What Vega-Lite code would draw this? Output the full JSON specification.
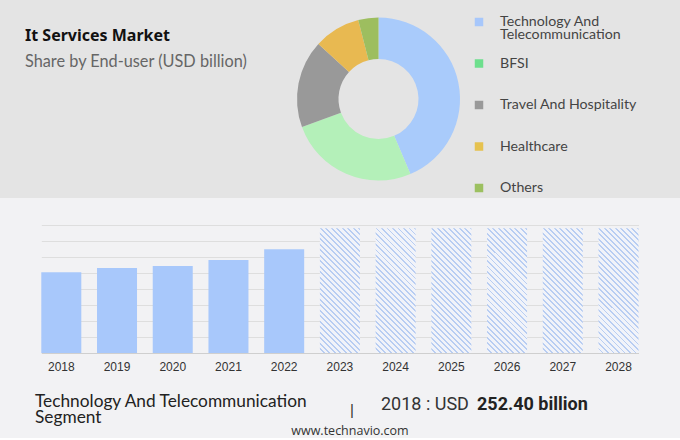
{
  "$schema": "https://vega.github.io/schema/vega-lite/v6.json",
  "padding": 0,
  "background": "#f2f2f4",
  "config": {"view": {"stroke": null}},
  "spacing": 27,
  "vconcat": [
    {
      "spacing": 0,
      "resolve": {"scale": {"color": "independent", "y": "independent"}},
      "hconcat": [
        {
          "width": 297,
          "height": 198,
          "view": {"fill": "#e4e4e4"},
          "layer": [
            {
              "data": {"values": [{"t": "It Services Market"}]},
              "mark": {"type": "text", "font": "Noto Sans", "fontWeight": "bold", "fontSize": 16, "color": "#111111", "align": "left", "baseline": "alphabetic"},
              "encoding": {"text": {"field": "t"}, "x": {"value": 25}, "y": {"value": 41}}
            },
            {
              "data": {"values": [{"t": "Share by End-user (USD billion)"}]},
              "mark": {"type": "text", "font": "Lato", "fontSize": 16.3, "color": "#666666", "align": "left", "baseline": "alphabetic"},
              "encoding": {"text": {"field": "t"}, "x": {"value": 25}, "y": {"value": 67}}
            }
          ]
        },
        {
          "width": 163,
          "height": 198,
          "view": {"fill": "#e4e4e4"},
          "data": {"values": [
            {"segment": "Technology And Telecommunication", "share": 43.6, "order": 1},
            {"segment": "BFSI", "share": 25.8, "order": 2},
            {"segment": "Travel And Hospitality", "share": 17.4, "order": 3},
            {"segment": "Healthcare", "share": 9.2, "order": 4},
            {"segment": "Others", "share": 4.0, "order": 5}
          ]},
          "mark": {"type": "arc", "innerRadius": 40, "outerRadius": 81.5},
          "encoding": {
            "theta": {"field": "share", "type": "quantitative", "stack": true},
            "order": {"field": "order", "type": "quantitative"},
            "color": {
              "field": "segment", "type": "nominal", "legend": null,
              "scale": {
                "domain": ["Technology And Telecommunication", "BFSI", "Travel And Hospitality", "Healthcare", "Others"],
                "range": ["#a9cbfb", "#b4f0b9", "#999999", "#e8b951", "#9dbe5f"]
              }
            }
          }
        },
        {
          "width": 220,
          "height": 198,
          "view": {"fill": "#e4e4e4"},
          "data": {"values": [
            {"segment": "Technology And\nTelecommunication"},
            {"segment": "BFSI"},
            {"segment": "Travel And Hospitality"},
            {"segment": "Healthcare"},
            {"segment": "Others"}
          ]},
          "encoding": {
            "y": {"field": "segment", "type": "nominal", "sort": null, "axis": null, "scale": {"type": "point", "range": [22, 188], "padding": 0}}
          },
          "layer": [
            {
              "mark": {"type": "point", "shape": "square", "filled": true, "size": 72, "opacity": 1},
              "encoding": {
                "x": {"value": 19},
                "color": {
                  "field": "segment", "type": "nominal", "legend": null,
                  "scale": {
                    "domain": ["Technology And\nTelecommunication", "BFSI", "Travel And Hospitality", "Healthcare", "Others"],
                    "range": ["#a7c7fb", "#6ddf8d", "#999999", "#e6c24f", "#9cc060"]
                  }
                }
              }
            },
            {
              "mark": {"type": "text", "font": "Lato", "fontSize": 14.2, "color": "#444444", "align": "left", "baseline": "alphabetic", "dy": 4, "lineBreak": "\n", "lineHeight": 12.5},
              "encoding": {"x": {"value": 40}, "text": {"field": "segment"}}
            }
          ]
        }
      ]
    },
    {
      "spacing": 0,
      "hconcat": [
        {
          "width": 25,
          "height": 128,
          "data": {"values": []},
          "mark": {"type": "point", "opacity": 0}
        },
        {
          "width": 620,
          "height": 128,
          "data": {"values": [
            {"year": "2018", "value": 252.4, "kind": "actual"},
            {"year": "2019", "value": 266, "kind": "actual"},
            {"year": "2020", "value": 272, "kind": "actual"},
            {"year": "2021", "value": 291, "kind": "actual"},
            {"year": "2022", "value": 324, "kind": "actual"},
            {"year": "2023", "value": 390, "kind": "forecast"},
            {"year": "2024", "value": 390, "kind": "forecast"},
            {"year": "2025", "value": 390, "kind": "forecast"},
            {"year": "2026", "value": 390, "kind": "forecast"},
            {"year": "2027", "value": 390, "kind": "forecast"},
            {"year": "2028", "value": 390, "kind": "forecast"}
          ]},
          "encoding": {
            "x": {
              "field": "year", "type": "nominal", "sort": null,
              "scale": {"range": [16.3, 613.5], "paddingInner": 0.282, "paddingOuter": 0},
              "axis": {"title": null, "ticks": false, "labelPadding": 8, "labelFont": "Liberation Sans", "labelFontSize": 12, "labelColor": "#333333", "domainColor": "#cfcfcf", "labelAngle": 0, "grid": false}
            },
            "y": {
              "field": "value", "type": "quantitative",
              "scale": {"domain": [0, 400]},
              "axis": {"title": null, "labels": false, "ticks": false, "domain": false, "grid": true, "gridColor": "#dedede", "values": [50, 100, 150, 200, 250, 300, 350, 400], "minExtent": 0, "maxExtent": 0}
            }
          },
          "layer": [
            {
              "transform": [{"filter": "datum.kind == 'actual'"}],
              "mark": {"type": "bar", "color": "#a8c8fb"}
            },
            {
              "transform": [{"filter": "datum.kind == 'forecast'"}],
              "mark": {
                "type": "bar",
                "color": {
                  "gradient": "linear", "x1": 0, "y1": 1, "x2": 0.3838, "y2": -0.1975,
                  "stops": [
                    {"offset": 0, "color": "#f1f3f9"}, {"offset": 0.0217, "color": "#f1f3f9"}, {"offset": 0.0217, "color": "#b8cdf2"}, {"offset": 0.0333, "color": "#b8cdf2"},
                    {"offset": 0.0333, "color": "#f1f3f9"}, {"offset": 0.0550, "color": "#f1f3f9"}, {"offset": 0.0550, "color": "#b8cdf2"}, {"offset": 0.0667, "color": "#b8cdf2"},
                    {"offset": 0.0667, "color": "#f1f3f9"}, {"offset": 0.0883, "color": "#f1f3f9"}, {"offset": 0.0883, "color": "#b8cdf2"}, {"offset": 0.1, "color": "#b8cdf2"},
                    {"offset": 0.1, "color": "#f1f3f9"}, {"offset": 0.1217, "color": "#f1f3f9"}, {"offset": 0.1217, "color": "#b8cdf2"}, {"offset": 0.1333, "color": "#b8cdf2"},
                    {"offset": 0.1333, "color": "#f1f3f9"}, {"offset": 0.1550, "color": "#f1f3f9"}, {"offset": 0.1550, "color": "#b8cdf2"}, {"offset": 0.1667, "color": "#b8cdf2"},
                    {"offset": 0.1667, "color": "#f1f3f9"}, {"offset": 0.1883, "color": "#f1f3f9"}, {"offset": 0.1883, "color": "#b8cdf2"}, {"offset": 0.2, "color": "#b8cdf2"},
                    {"offset": 0.2, "color": "#f1f3f9"}, {"offset": 0.2217, "color": "#f1f3f9"}, {"offset": 0.2217, "color": "#b8cdf2"}, {"offset": 0.2333, "color": "#b8cdf2"},
                    {"offset": 0.2333, "color": "#f1f3f9"}, {"offset": 0.2550, "color": "#f1f3f9"}, {"offset": 0.2550, "color": "#b8cdf2"}, {"offset": 0.2667, "color": "#b8cdf2"},
                    {"offset": 0.2667, "color": "#f1f3f9"}, {"offset": 0.2883, "color": "#f1f3f9"}, {"offset": 0.2883, "color": "#b8cdf2"}, {"offset": 0.3, "color": "#b8cdf2"},
                    {"offset": 0.3, "color": "#f1f3f9"}, {"offset": 0.3217, "color": "#f1f3f9"}, {"offset": 0.3217, "color": "#b8cdf2"}, {"offset": 0.3333, "color": "#b8cdf2"},
                    {"offset": 0.3333, "color": "#f1f3f9"}, {"offset": 0.3550, "color": "#f1f3f9"}, {"offset": 0.3550, "color": "#b8cdf2"}, {"offset": 0.3667, "color": "#b8cdf2"},
                    {"offset": 0.3667, "color": "#f1f3f9"}, {"offset": 0.3883, "color": "#f1f3f9"}, {"offset": 0.3883, "color": "#b8cdf2"}, {"offset": 0.4, "color": "#b8cdf2"},
                    {"offset": 0.4, "color": "#f1f3f9"}, {"offset": 0.4217, "color": "#f1f3f9"}, {"offset": 0.4217, "color": "#b8cdf2"}, {"offset": 0.4333, "color": "#b8cdf2"},
                    {"offset": 0.4333, "color": "#f1f3f9"}, {"offset": 0.4550, "color": "#f1f3f9"}, {"offset": 0.4550, "color": "#b8cdf2"}, {"offset": 0.4667, "color": "#b8cdf2"},
                    {"offset": 0.4667, "color": "#f1f3f9"}, {"offset": 0.4883, "color": "#f1f3f9"}, {"offset": 0.4883, "color": "#b8cdf2"}, {"offset": 0.5, "color": "#b8cdf2"},
                    {"offset": 0.5, "color": "#f1f3f9"}, {"offset": 0.5217, "color": "#f1f3f9"}, {"offset": 0.5217, "color": "#b8cdf2"}, {"offset": 0.5333, "color": "#b8cdf2"},
                    {"offset": 0.5333, "color": "#f1f3f9"}, {"offset": 0.5550, "color": "#f1f3f9"}, {"offset": 0.5550, "color": "#b8cdf2"}, {"offset": 0.5667, "color": "#b8cdf2"},
                    {"offset": 0.5667, "color": "#f1f3f9"}, {"offset": 0.5883, "color": "#f1f3f9"}, {"offset": 0.5883, "color": "#b8cdf2"}, {"offset": 0.6, "color": "#b8cdf2"},
                    {"offset": 0.6, "color": "#f1f3f9"}, {"offset": 0.6217, "color": "#f1f3f9"}, {"offset": 0.6217, "color": "#b8cdf2"}, {"offset": 0.6333, "color": "#b8cdf2"},
                    {"offset": 0.6333, "color": "#f1f3f9"}, {"offset": 0.6550, "color": "#f1f3f9"}, {"offset": 0.6550, "color": "#b8cdf2"}, {"offset": 0.6667, "color": "#b8cdf2"},
                    {"offset": 0.6667, "color": "#f1f3f9"}, {"offset": 0.6883, "color": "#f1f3f9"}, {"offset": 0.6883, "color": "#b8cdf2"}, {"offset": 0.7, "color": "#b8cdf2"},
                    {"offset": 0.7, "color": "#f1f3f9"}, {"offset": 0.7217, "color": "#f1f3f9"}, {"offset": 0.7217, "color": "#b8cdf2"}, {"offset": 0.7333, "color": "#b8cdf2"},
                    {"offset": 0.7333, "color": "#f1f3f9"}, {"offset": 0.7550, "color": "#f1f3f9"}, {"offset": 0.7550, "color": "#b8cdf2"}, {"offset": 0.7667, "color": "#b8cdf2"},
                    {"offset": 0.7667, "color": "#f1f3f9"}, {"offset": 0.7883, "color": "#f1f3f9"}, {"offset": 0.7883, "color": "#b8cdf2"}, {"offset": 0.8, "color": "#b8cdf2"},
                    {"offset": 0.8, "color": "#f1f3f9"}, {"offset": 0.8217, "color": "#f1f3f9"}, {"offset": 0.8217, "color": "#b8cdf2"}, {"offset": 0.8333, "color": "#b8cdf2"},
                    {"offset": 0.8333, "color": "#f1f3f9"}, {"offset": 0.8550, "color": "#f1f3f9"}, {"offset": 0.8550, "color": "#b8cdf2"}, {"offset": 0.8667, "color": "#b8cdf2"},
                    {"offset": 0.8667, "color": "#f1f3f9"}, {"offset": 0.8883, "color": "#f1f3f9"}, {"offset": 0.8883, "color": "#b8cdf2"}, {"offset": 0.9, "color": "#b8cdf2"},
                    {"offset": 0.9, "color": "#f1f3f9"}, {"offset": 0.9217, "color": "#f1f3f9"}, {"offset": 0.9217, "color": "#b8cdf2"}, {"offset": 0.9333, "color": "#b8cdf2"},
                    {"offset": 0.9333, "color": "#f1f3f9"}, {"offset": 0.9550, "color": "#f1f3f9"}, {"offset": 0.9550, "color": "#b8cdf2"}, {"offset": 0.9667, "color": "#b8cdf2"},
                    {"offset": 0.9667, "color": "#f1f3f9"}, {"offset": 0.9883, "color": "#f1f3f9"}, {"offset": 0.9883, "color": "#b8cdf2"}, {"offset": 1, "color": "#b8cdf2"}
                  ]
                }
              }
            },
            {
              "data": {"values": [{"t": "Technology And Telecommunication\nSegment"}]},
              "mark": {"type": "text", "font": "Lato", "fontSize": 17.3, "color": "#222222", "align": "left", "baseline": "alphabetic", "lineBreak": "\n", "lineHeight": 16},
              "encoding": {"text": {"field": "t"}, "x": {"value": 10}, "y": {"value": 182}}
            },
            {
              "data": {"values": [{"t": "|"}]},
              "mark": {"type": "text", "font": "Liberation Sans", "fontSize": 15, "color": "#333333", "align": "center", "baseline": "alphabetic"},
              "encoding": {"text": {"field": "t"}, "x": {"value": 327}, "y": {"value": 190}}
            },
            {
              "data": {"values": [{"t": "2018 : USD"}]},
              "mark": {"type": "text", "font": "Roboto", "fontSize": 18, "color": "#333333", "align": "left", "baseline": "alphabetic"},
              "encoding": {"text": {"field": "t"}, "x": {"value": 356}, "y": {"value": 185}}
            },
            {
              "data": {"values": [{"t": "252.40 billion"}]},
              "mark": {"type": "text", "font": "Roboto", "fontWeight": "bold", "fontSize": 18, "color": "#222222", "align": "left", "baseline": "alphabetic"},
              "encoding": {"text": {"field": "t"}, "x": {"value": 452}, "y": {"value": 185}}
            },
            {
              "data": {"values": [{"t": "www.technavio.com"}]},
              "mark": {"type": "text", "font": "Open Sans", "fontSize": 12.5, "color": "#333333", "align": "center", "baseline": "alphabetic"},
              "encoding": {"text": {"field": "t"}, "x": {"value": 325}, "y": {"value": 210}}
            }
          ]
        }
      ]
    }
  ]
}
